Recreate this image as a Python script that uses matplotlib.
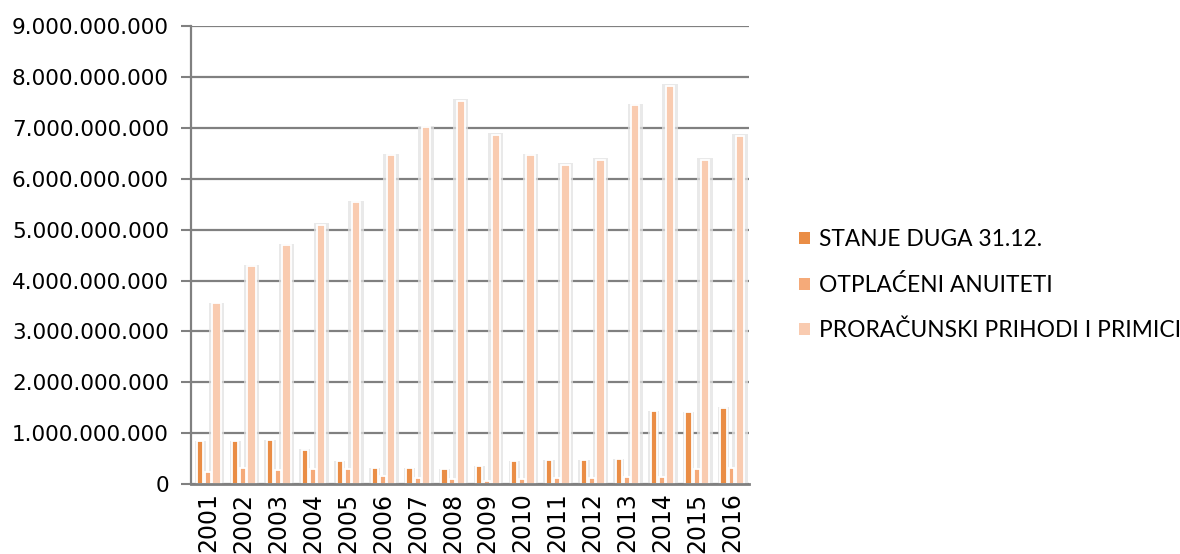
import matplotlib.pyplot as plt
import numpy as np
from matplotlib.patches import Patch
from matplotlib.ticker import FuncFormatter

years = ["2001", "2002", "2003", "2004", "2005", "2006", "2007", "2008",
         "2009", "2010", "2011", "2012", "2013", "2014", "2015", "2016"]
stanje_duga = [0.84, 0.85, 0.86, 0.68, 0.45, 0.31, 0.31, 0.29,
               0.36, 0.45, 0.47, 0.48, 0.49, 1.43, 1.42, 1.50]
otplaceni = [0.24, 0.31, 0.28, 0.30, 0.29, 0.17, 0.12, 0.10,
             0.06, 0.10, 0.12, 0.12, 0.14, 0.14, 0.29, 0.31]
proracunski = [3.55, 4.29, 4.70, 5.10, 5.54, 6.46, 7.01, 7.53,
               6.86, 6.46, 6.28, 6.37, 7.44, 7.82, 6.37, 6.84]
labels = ["STANJE DUGA 31.12.", "OTPLAĆENI ANUITETI", "PRORAČUNSKI PRIHODI I PRIMICI"]
colors = ["#EA8D45", "#F5AA79", "#F9CBB0"]

scale = 1e9
x = np.arange(len(years))

fig = plt.figure(figsize=(11.8, 5.54), dpi=100)
ax = fig.add_axes([0.162, 0.126, 0.473, 0.827])

series = [stanje_duga, otplaceni, proracunski]
offsets = [-0.24, -0.01, 0.23]
widths = [0.18, 0.17, 0.24]
halo = [0.14, 0.1, 0.2]
for vals, off, w, h, c in zip(series, offsets, widths, halo, colors):
    v = np.array(vals) * scale
    # soft grey halo, a rough stand-in for the 3D look
    ax.bar(x + off, v * 1.005, width=w + h, color="#e2e2e2", alpha=0.75,
           zorder=1, linewidth=0)
    ax.bar(x + off, v, width=w, color=c, edgecolor="white", linewidth=1.3,
           zorder=2)

ax.set_xlim(-0.5, len(years) - 0.5)
ax.set_ylim(0, 9e9)
ax.set_yticks(np.arange(0, 9.5e9, 1e9))
ax.yaxis.set_major_formatter(FuncFormatter(lambda v, p: f"{int(round(v)):,}".replace(",", ".")))
ax.set_xticks(x)
ax.set_xticklabels(years, rotation=90)
ax.tick_params(axis="y", labelsize=15.5, length=7, width=1.5, color="#808080", pad=9)
ax.tick_params(axis="x", labelsize=17, length=0, pad=6)
ax.yaxis.grid(True, color="#808080", linewidth=1.6, zorder=0)
ax.set_axisbelow(True)
for s in ["top", "right"]:
    ax.spines[s].set_visible(False)
ax.spines["left"].set_color("#808080")
ax.spines["left"].set_linewidth(1.6)
ax.spines["bottom"].set_color("#808080")
ax.spines["bottom"].set_linewidth(2.0)

handles = [Patch(facecolor=c, edgecolor="none") for c in colors]
fig.legend(handles, labels, loc="center left", bbox_to_anchor=(0.66, 0.485),
           frameon=False, prop={"family": "Lato", "size": 16.4},
           handlelength=0.45, handleheight=0.45, handletextpad=0.4,
           labelspacing=1.05)

fig.savefig("out.png", dpi=100)
